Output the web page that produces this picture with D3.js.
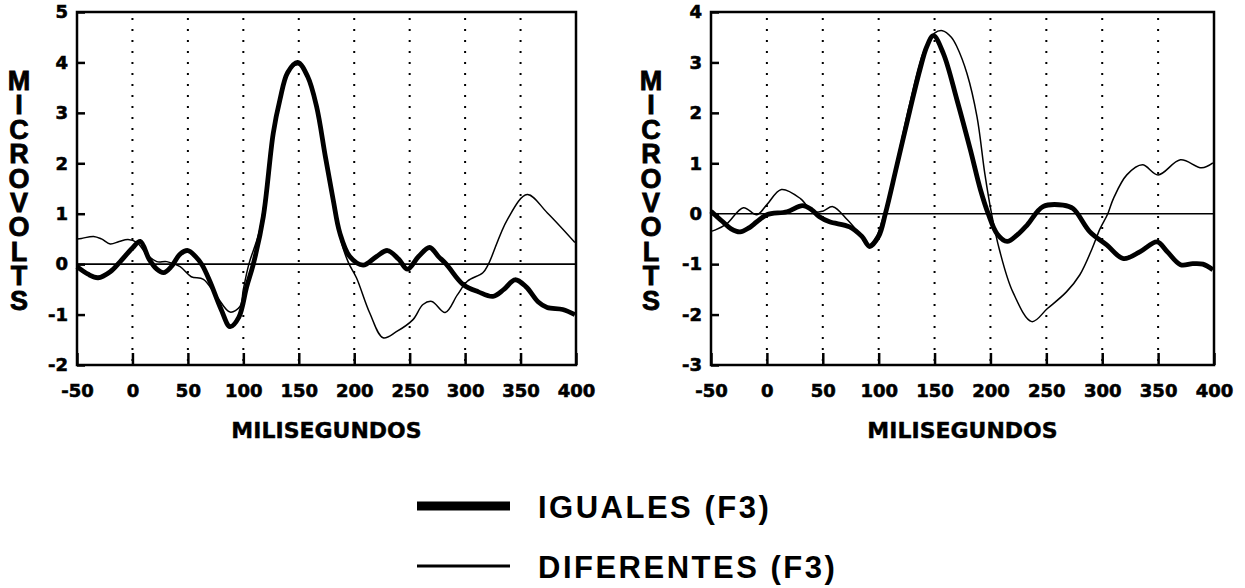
<!DOCTYPE html>
<html>
<head>
<meta charset="utf-8">
<script src="https://cdn.jsdelivr.net/npm/d3@7"></script>
<style>
  body { margin: 0; background: #fff; }
  svg { display: block; }
</style>
</head>
<body>
<div id="chart"></div>
<script>
// [ms, microvolts]
const leftIguales = [
  [-50, -0.05], [-40, -0.2], [-31, -0.27], [-20, -0.15], [-11, 0.05], [0, 0.32], [7, 0.45],
  [15, 0.1], [22, -0.1], [28, -0.17], [35, -0.05], [43, 0.2], [50, 0.27], [57, 0.15],
  [63, -0.02], [70, -0.35], [80, -0.9], [88, -1.24], [96, -1.05], [103, -0.45], [109, 0.0],
  [118, 0.94], [127, 2.6], [133, 3.26], [140, 3.8], [149, 4.0], [158, 3.72], [166, 3.13],
  [174, 2.13], [181, 1.28], [187, 0.62], [196, 0.15], [208, -0.02], [220, 0.15], [230, 0.27],
  [240, 0.1], [248, -0.1], [258, 0.15], [268, 0.33], [276, 0.15], [283, 0.0], [298, -0.4],
  [312, -0.55], [325, -0.64], [335, -0.5], [345, -0.31], [355, -0.45], [366, -0.75],
  [374, -0.86], [388, -0.9], [399, -1.0]
];
const leftDiferentes = [
  [-50, 0.5], [-46, 0.51], [-35, 0.55], [-28, 0.5], [-20, 0.4], [-12, 0.45], [-4, 0.49],
  [4, 0.43], [13, 0.19], [22, 0.05], [31, 0.05], [43, -0.05], [53, -0.25], [64, -0.3],
  [76, -0.64], [88, -0.95], [97, -0.84], [100, -0.5], [105, 0.0], [115, 0.7], [127, 2.55],
  [140, 3.8], [150, 3.95], [158, 3.7], [166, 3.1], [174, 2.1], [181, 1.25], [189, 0.39],
  [195, 0.02], [202, -0.27], [214, -0.97], [226, -1.46], [238, -1.34], [253, -1.1],
  [262, -0.8], [270, -0.74], [282, -0.96], [293, -0.61], [302, -0.34], [316, -0.17],
  [321, 0.0], [338, 0.88], [356, 1.38], [374, 1.02], [399, 0.43]
];
const rightIguales = [
  [-50, 0.05], [-40, -0.15], [-32, -0.3], [-24, -0.36], [-16, -0.28], [-9, -0.16], [0, -0.02],
  [18, 0.04], [32, 0.16], [40, 0.08], [47, -0.06], [56, -0.16], [74, -0.26], [85, -0.45],
  [92, -0.65], [100, -0.45], [106, 0.0], [116, 0.93], [128, 2.06], [137, 2.86], [143, 3.31],
  [149, 3.53], [158, 3.17], [170, 2.26], [182, 1.27], [191, 0.48], [198, 0.0], [206, -0.4],
  [215, -0.55], [224, -0.42], [233, -0.22], [247, 0.14], [265, 0.17], [274, 0.1], [289, -0.36],
  [304, -0.62], [319, -0.89], [334, -0.75], [349, -0.56], [358, -0.75], [370, -1.01],
  [381, -0.99], [390, -1.0], [399, -1.11]
];
const rightDiferentes = [
  [-50, -0.35], [-46, -0.32], [-36, -0.2], [-21, 0.12], [-9, -0.02], [0, 0.18], [13, 0.48],
  [30, 0.3], [41, 0.04], [50, 0.05], [59, 0.14], [72, -0.12], [83, -0.4], [91, -0.62],
  [98, -0.45], [103, -0.15], [107, 0.15], [116, 1.0], [128, 2.2], [140, 3.2], [150, 3.58],
  [157, 3.63], [165, 3.5], [170, 3.31], [179, 2.78], [188, 1.92], [195, 0.79], [201, 0.0],
  [208, -0.71], [220, -1.55], [237, -2.14], [251, -1.88], [268, -1.55], [280, -1.21],
  [291, -0.69], [298, -0.3], [305, 0.0], [310, 0.3], [322, 0.77], [336, 0.97], [350, 0.77],
  [370, 1.07], [389, 0.91], [399, 1.01]
];

const xTicks = [-50, 0, 50, 100, 150, 200, 250, 300, 350, 400];
const gridTicks = [0, 50, 100, 150, 200, 250, 300, 350];
const leftYTicks = [-2, -1, 0, 1, 2, 3, 4, 5];
const rightYTicks = [-3, -2, -1, 0, 1, 2, 3, 4];
const yTitle = "MICROVOLTS";
const xTitle = "MILISEGUNDOS";
const legendLabels = ["IGUALES (F3)", "DIFERENTES (F3)"];

const width = 1245, height = 588;

const svg = d3.select("#chart").append("svg")
    .attr("width", width)
    .attr("height", height);

const panels = [
  { left: 77, right: 576, top: 12, bottom: 365, yDomain: [-2, 5], yTicks: leftYTicks,
    titleX: 19, series: [leftIguales, leftDiferentes] },
  { left: 711, right: 1214, top: 12, bottom: 365, yDomain: [-3, 4], yTicks: rightYTicks,
    titleX: 651, series: [rightIguales, rightDiferentes] }
];

const widths = [4.8, 1.5];

panels.forEach(p => {
    const x = d3.scaleLinear().domain([-50, 400]).range([p.left, p.right]);
    const y = d3.scaleLinear().domain(p.yDomain).range([p.bottom, p.top]);
    const g = svg.append("g");

    // dotted verticals
    g.append("g")
        .selectAll("line")
        .data(gridTicks)
        .join("line")
        .attr("x1", d => x(d)).attr("x2", d => x(d))
        .attr("y1", p.top + 6).attr("y2", p.bottom)
        .attr("stroke", "#000")
        .attr("stroke-width", 2)
        .attr("stroke-dasharray", "2,9");

    // zero line
    g.append("line")
        .attr("x1", p.left).attr("x2", p.right)
        .attr("y1", y(0)).attr("y2", y(0))
        .attr("stroke", "#000")
        .attr("stroke-width", 1.6);

    const line = d3.line()
        .x(d => x(d[0]))
        .y(d => y(d[1]))
        .curve(d3.curveCatmullRom.alpha(0.5));

    g.append("g")
        .selectAll("path")
        .data(p.series)
        .join("path")
        .attr("fill", "none")
        .attr("stroke", "#000")
        .attr("stroke-width", (d, i) => widths[i])
        .attr("stroke-linejoin", "round")
        .attr("d", line);

    // axes, ticks pointing inward
    const xAxis = g.append("g")
        .attr("transform", `translate(0,${p.bottom})`)
        .call(d3.axisBottom(x).tickValues(xTicks).tickSize(-12).tickPadding(19).tickFormat(d => String(d)));
    const yAxis = g.append("g")
        .attr("transform", `translate(${p.left},0)`)
        .call(d3.axisLeft(y).tickValues(p.yTicks).tickSize(-8).tickPadding(9).tickFormat(d => String(d)));

    [xAxis, yAxis].forEach(a => {
        a.select(".domain").remove();
        a.selectAll(".tick line").attr("stroke", "#000").attr("stroke-width", 2.5);
        a.selectAll("text")
            .attr("fill", "#000")
            .attr("stroke", "#000")
            .attr("stroke-width", 0.6)
            .style("font-family", "'DejaVu Sans', sans-serif")
            .style("font-weight", "bold")
            .style("font-size", "18px");
    });

    // frame
    g.append("rect")
        .attr("x", p.left).attr("y", p.top)
        .attr("width", p.right - p.left).attr("height", p.bottom - p.top)
        .attr("fill", "none")
        .attr("stroke", "#000")
        .attr("stroke-width", 2.5);

    // stacked y title, upright vertical text
    g.append("text")
        .attr("x", p.titleX)
        .attr("y", 66)
        .style("writing-mode", "vertical-lr")
        .style("text-orientation", "upright")
        .style("letter-spacing", "-5.6px")
        .style("font-family", "'Liberation Sans', Arial, sans-serif")
        .style("font-weight", "bold")
        .style("font-size", "27px")
        .attr("stroke", "#000")
        .attr("stroke-width", 0.8)
        .text(yTitle);

    g.append("text")
        .attr("x", (p.left + p.right) / 2)
        .attr("y", 438)
        .attr("text-anchor", "middle")
        .attr("stroke", "#000")
        .attr("stroke-width", 0.4)
        .style("font-family", "'DejaVu Sans', sans-serif")
        .style("font-weight", "bold")
        .style("font-size", "22px")
        .text(xTitle);
});

// legend
const legend = svg.append("g");
const legendY = [506, 566];
legend.selectAll("line")
    .data(legendLabels)
    .join("line")
    .attr("x1", 417).attr("x2", 510)
    .attr("y1", (d, i) => legendY[i]).attr("y2", (d, i) => legendY[i])
    .attr("stroke", "#000")
    .attr("stroke-width", (d, i) => i === 0 ? 9 : 3);
legend.selectAll("text")
    .data(legendLabels)
    .join("text")
    .attr("x", 538)
    .attr("y", (d, i) => legendY[i] + 12)
    .style("font-family", "'Liberation Sans', Arial, sans-serif")
    .style("font-weight", "bold")
    .style("font-size", "31px")
    .style("letter-spacing", "2.5px")
    .text(d => d);
</script>
</body>
</html>
